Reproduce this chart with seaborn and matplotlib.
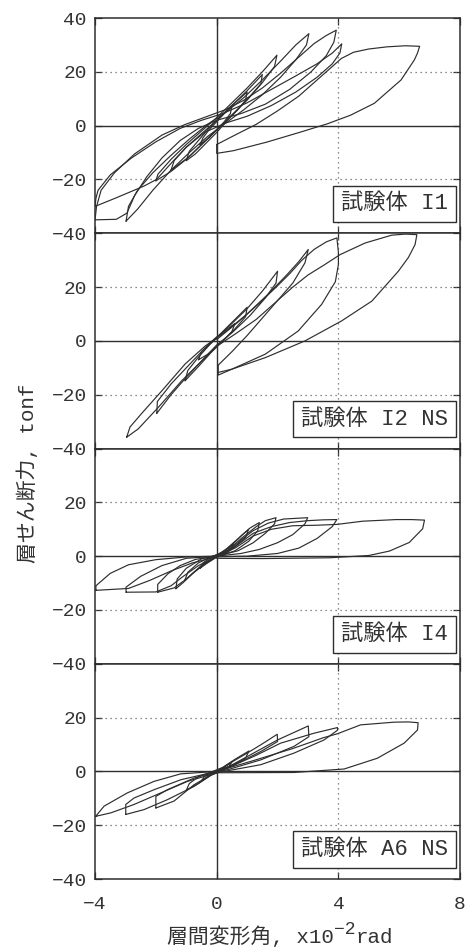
import matplotlib
matplotlib.use("Agg")
import matplotlib.pyplot as plt
import pandas as pd
import seaborn as sns

# Story shear (tonf) against story drift angle (x10^-2 rad).
# Each cycle is a closed path: negative peak -> loading branch -> positive peak -> return branch.

I1_CYCLES = [
    [(-0.55, -7), (-0.45, -4.5), (-0.25, -1.5), (0, 1.5), (0.25, 4.5), (0.5, 7.5),
     (0.45, 4.5), (0.25, 1.5), (0, -1.5), (-0.25, -4.5), (-0.55, -7)],
    [(-1.0, -13), (-0.9, -9.5), (-0.6, -5.5), (-0.3, -1.5), (0, 2), (0.4, 6.5), (0.75, 10), (1.0, 12.5),
     (0.95, 9.5), (0.7, 6), (0.35, 2), (0, -2.5), (-0.35, -6.5), (-0.7, -10.5), (-1.0, -13)],
    [(-1.5, -16.5), (-1.4, -13), (-1.0, -8), (-0.5, -3), (0, 2), (0.5, 7.5), (1.0, 13), (1.5, 19),
     (1.45, 15.5), (1.1, 11), (0.6, 5), (0.1, -0.5), (-0.4, -6), (-0.9, -11.5), (-1.5, -16.5)],
    [(-2.0, -20.5), (-1.93, -18), (-1.5, -12.5), (-1.0, -7), (-0.5, -2), (0, 3), (0.5, 8.5), (1.0, 14),
     (1.5, 20), (1.98, 26.2), (1.9, 22), (1.5, 16), (1.0, 9.5), (0.5, 4), (0, -1.5), (-0.5, -7),
     (-1.0, -12.5), (-1.5, -17), (-2.0, -20.5)],
    [(-2.98, -35.5), (-2.9, -30), (-2.6, -24), (-2.1, -17.5), (-1.5, -11), (-0.9, -5), (-0.3, 0.5),
     (0.3, 5), (0.9, 10.5), (1.5, 17), (2.1, 24), (2.6, 30), (3.03, 34.2), (2.95, 30), (2.6, 24.5),
     (2.1, 18), (1.5, 11.5), (0.9, 6), (0.3, 1), (-0.3, -4), (-0.9, -10), (-1.5, -16.5), (-2.1, -24),
     (-2.6, -31), (-2.98, -35.5)],
    [(-4.0, -35), (-3.95, -30), (-3.8, -24), (-3.36, -17.5), (-2.7, -10.5), (-1.8, -3.5), (-1.05, 0.4),
     (-0.3, 3.5), (0.3, 6), (0.9, 9.5), (1.5, 14), (2.1, 19.5), (2.7, 25.5), (3.2, 30.5), (3.6, 33.5),
     (3.93, 35.5), (3.85, 31), (3.6, 26), (3.1, 20), (2.4, 13.5), (1.6, 8), (0.8, 4.5), (0, 2),
     (-0.6, -1), (-1.2, -5.5), (-1.8, -12), (-2.3, -19), (-2.7, -26), (-2.95, -32.5), (-3.3, -34.8),
     (-4.0, -35)],
    [(-4.0, -30), (-3.97, -27), (-3.9, -24), (-3.5, -18.3), (-2.8, -12), (-2.0, -6), (-1.2, -1),
     (-0.5, 2), (0.2, 4.5), (1.0, 8.5), (1.8, 13.5), (2.6, 18.5), (3.3, 23), (3.8, 27), (4.11, 30.4),
     (4.05, 27), (3.8, 23), (3.3, 18), (2.6, 12.5), (1.8, 7.5), (1.0, 3.5), (0.3, 1), (-0.4, -2.5),
     (-1.0, -8), (-1.5, -14), (-1.98, -20), (-2.4, -22.5), (-3.3, -26.8), (-4.0, -30)],
    [(0, -7), (0.6, -3.5), (1.3, 0.5), (2.0, 5.5), (2.7, 11), (3.3, 17), (3.8, 22), (4.1, 25),
     (4.5, 27.3), (5.0, 28.5), (5.6, 29.3), (6.2, 29.7), (6.67, 29.5), (6.6, 27), (6.5, 24.5),
     (6.06, 17), (5.18, 8.3), (4.4, 3.9), (3.64, 0.7), (2.75, -2.4), (1.65, -6.1), (0.55, -9.3),
     (0, -10.3), (0, -7)],
]

I2_CYCLES = [
    [(-0.6, -7), (-0.5, -4), (-0.25, -1), (0, 1.5), (0.3, 4), (0.6, 6.5),
     (0.5, 3.5), (0.25, 0.5), (0, -2), (-0.3, -5), (-0.6, -7)],
    [(-1.04, -14.8), (-0.95, -11), (-0.6, -6), (-0.2, -1), (0.2, 3.5), (0.6, 8), (1.0, 12.5),
     (0.95, 9), (0.6, 4.5), (0.2, 0), (-0.2, -4.5), (-0.6, -9.5), (-1.04, -14.8)],
    [(-1.97, -26.9), (-1.95, -22.5), (-1.5, -16), (-1.0, -10), (-0.5, -4), (0, 1), (0.5, 6.5),
     (1.0, 12), (1.5, 18.5), (2.0, 25.9), (1.95, 21.5), (1.6, 16), (1.1, 9.5), (0.5, 3), (0, -1.5),
     (-0.5, -7.5), (-1.0, -13.5), (-1.5, -20), (-1.97, -26.9)],
    [(-2.96, -35.8), (-2.85, -32), (-2.47, -27), (-1.8, -18.5), (-1.04, -8.6), (-0.38, -1.9),
     (0.3, 3.5), (1.0, 10), (1.7, 17.5), (2.3, 24.5), (2.7, 29.5), (3.01, 34), (2.9, 29), (2.5, 21.5),
     (2.0, 15), (1.3, 8), (0.6, 2.5), (0, -2), (-0.38, -6.2), (-1.15, -14.8), (-1.92, -24.7),
     (-2.58, -32.7), (-2.96, -35.8)],
    [(0, 0.5), (0.7, 7), (1.4, 14), (2.0, 20.5), (2.4, 25), (2.8, 30), (3.2, 34), (3.6, 36.8),
     (3.95, 38.3), (4.0, 33), (4.0, 28.4), (3.9, 22), (3.45, 13.6), (2.68, 3.7), (1.6, -4.9),
     (0.5, -10.5), (0.05, -12.7), (0.05, -9)],
    [(0.05, -9), (0.5, -4), (1.0, 2), (1.5, 8.5), (2.0, 15), (2.5, 20), (3.0, 24.5), (3.5, 28),
     (4.06, 32.1), (4.88, 36.4), (5.75, 39.3), (6.2, 39.7), (6.58, 39.5), (6.52, 35.8), (6.3, 31),
     (5.97, 25.9), (5.1, 14.8), (4.1, 7.4), (2.9, 0), (1.6, -6.2), (0.5, -10.5), (0.05, -11.7)],
]

I4_CYCLES = [
    [(-0.55, -4.5), (-0.45, -2.5), (-0.2, -0.5), (0, 0.3), (0.3, 2.5), (0.55, 4.5),
     (0.45, 2.5), (0.2, 0.5), (0, -0.3), (-0.3, -2.5), (-0.55, -4.5)],
    [(-1.05, -9), (-0.95, -6), (-0.6, -2.5), (-0.2, -0.3), (0.2, 1.5), (0.5, 4.5), (0.8, 7.5),
     (1.05, 10), (0.95, 7), (0.6, 3.5), (0.3, 1), (0, -0.3), (-0.4, -3), (-0.8, -6.5), (-1.05, -9)],
    [(-1.34, -12.1), (-1.3, -8.5), (-1.0, -4.5), (-0.5, -1), (0, 0.3), (0.4, 3), (0.8, 7.5),
     (1.1, 10.5), (1.4, 12.5), (1.35, 9.5), (1.05, 5.5), (0.6, 2), (0, -0.3), (-0.4, -2.5),
     (-0.8, -6.5), (-1.1, -9.8), (-1.34, -12.1)],
    [(-1.94, -13.4), (-1.94, -10.5), (-1.6, -6.5), (-1.2, -3.5), (-0.7, -1.2), (0, 0), (0.4, 2.5),
     (0.8, 6.5), (1.3, 11), (1.6, 13.2), (1.95, 14.3), (1.9, 12), (1.6, 8.5), (1.2, 5), (0.7, 2),
     (0, 0), (-0.5, -3.5), (-1.0, -8.5), (-1.4, -11.8), (-1.94, -13.4)],
    [(-2.98, -13.4), (-2.98, -11.5), (-2.5, -7.5), (-1.8, -3.5), (-1.0, -0.8), (0, 0), (0.4, 2),
     (0.8, 6), (1.2, 9.5), (1.7, 12.3), (2.2, 13.8), (2.99, 14.3), (2.9, 12), (2.5, 8), (2.0, 5),
     (1.4, 2.5), (0.8, 1), (0, 0), (-0.6, -3.5), (-1.1, -7.5), (-1.5, -11), (-2.0, -13.3),
     (-2.98, -13.4)],
    [(-3.97, -12.7), (-3.97, -11), (-3.5, -6.4), (-2.9, -3.2), (-2.0, -1.3), (-1.0, -0.3), (0, 0),
     (0.6, 3.5), (1.2, 8.5), (1.8, 11), (2.4, 12.5), (3.0, 13.2), (3.5, 13.5), (3.95, 13.6),
     (3.8, 11), (3.3, 6.6), (2.7, 3), (2.0, 1), (1.0, 0), (0, -0.2), (-0.8, -2.5), (-1.5, -5.5),
     (-2.2, -9), (-2.9, -12), (-3.97, -12.7)],
    [(0, 0), (0.6, 3), (1.2, 7.5), (1.8, 10), (2.5, 11.3), (3.3, 11.5), (3.95, 11.8), (4.8, 13),
     (5.9, 13.6), (6.4, 13.6), (6.83, 13.4), (6.77, 10.2), (6.33, 5.1), (5.68, 1.9), (5.0, 0.25),
     (3.7, -0.6), (1.5, -0.9), (0, -0.8), (0, 0)],
]

A6_CYCLES = [
    [(-0.5, -3.5), (-0.4, -1.8), (-0.15, -0.3), (0, 0.2), (0.25, 1.5), (0.5, 3.5),
     (0.4, 1.8), (0.15, 0.3), (0, -0.2), (-0.25, -1.5), (-0.5, -3.5)],
    [(-1.0, -7), (-0.9, -4.5), (-0.6, -2), (-0.2, -0.3), (0.2, 1.5), (0.6, 4.5), (1.06, 7.6),
     (0.95, 5), (0.6, 2.5), (0.2, 0.3), (-0.2, -1.5), (-0.6, -4.5), (-1.0, -7)],
    [(-2.0, -13.6), (-2.0, -9.3), (-1.62, -6.8), (-0.75, -2.5), (0, 0), (0.35, 2.5), (1.0, 6.8),
     (1.45, 9.9), (1.99, 13.8), (2.0, 11.1), (1.45, 7.4), (0.8, 3.7), (0, 0), (-0.75, -5),
     (-1.4, -11), (-2.0, -13.6)],
    [(-2.99, -16), (-2.99, -12.3), (-2.72, -9.9), (-2.06, -6.8), (-1.18, -3.1), (0, 0), (0.35, 1.5),
     (1.0, 5.5), (2.0, 11.7), (3.01, 16.9), (3.03, 12.9), (2.54, 9.3), (1.45, 4.3), (0.35, 0.6),
     (0, 0), (-0.75, -5.6), (-1.62, -10.5), (-2.39, -14.2), (-2.99, -16)],
    [(-3.98, -16.7), (-3.7, -12.9), (-2.94, -8), (-2.06, -3.7), (-1.18, -0.9), (0, 0), (0.6, 2.5),
     (1.3, 6), (2.1, 10.5), (3.2, 14.2), (3.97, 16.3), (3.97, 15.3), (3.53, 11.7), (2.54, 6.8),
     (1.45, 2.5), (0, -0.5), (-0.96, -3.7), (-1.84, -8), (-2.72, -12.3), (-3.48, -15.4),
     (-3.98, -16.7)],
    [(0, 0), (1.2, 4), (2.5, 8.5), (3.5, 12.5), (3.97, 14), (4.73, 17.3), (5.83, 18.3), (6.3, 18.4),
     (6.62, 18.1), (6.6, 15.4), (6.16, 10.5), (5.28, 4.9), (4.19, 0.9), (2.54, -0.4), (0, -0.5),
     (0, 0)],
]

SPECIMENS = ["試験体 I1", "試験体 I2 NS", "試験体 I4", "試験体 A6 NS"]
X_TICKS = [-4, 0, 4, 8]
Y_TICKS = [-40, -20, 0, 20, 40]
X_LABEL_MAIN = "層間変形角, x10"
X_LABEL_EXP = "−2"
X_LABEL_UNIT = "rad"
Y_LABEL = "層せん断力, tonf"

FONTS = ["Liberation Mono", "Noto Sans CJK JP", "DejaVu Sans"]
INK = "#2e2e2e"

sns.set_theme(style="ticks")
plt.rcParams["font.family"] = FONTS
plt.rcParams["axes.unicode_minus"] = True


def cycles_frame(cycles):
    rows = []
    for k, cyc in enumerate(cycles):
        for i, (x, y) in enumerate(cyc):
            rows.append({"drift": x, "shear": y, "cycle": k, "order": i})
    return pd.DataFrame(rows)


fig = plt.figure(figsize=(4.69, 9.5), dpi=100)
axes = fig.subplots(4, 1, sharex=True, gridspec_kw={"hspace": 0})
fig.subplots_adjust(left=0.2026, right=0.981, top=0.981, bottom=0.0747)

for idx, (ax, cycles, name) in enumerate(zip(axes, [I1_CYCLES, I2_CYCLES, I4_CYCLES, A6_CYCLES], SPECIMENS)):
    # reference lines
    for yv in (-20, 20):
        ax.axhline(yv, color="#666666", lw=0.9, ls=(0, (1, 3)), zorder=1)
    ax.axvline(4, color="#666666", lw=0.9, ls=(0, (1, 3)), zorder=1)
    ax.axhline(0, color=INK, lw=1.0, zorder=1)
    ax.axvline(0, color=INK, lw=1.0, zorder=1)

    df = cycles_frame(cycles)
    sns.lineplot(data=df, x="drift", y="shear", units="cycle", estimator=None, sort=False,
                 color=INK, linewidth=0.85, ax=ax, legend=False, zorder=3)

    ax.set_xlim(-4, 8)
    ax.set_ylim(-40, 40)
    ax.set_xlabel("")
    ax.set_ylabel("")
    ax.set_xticks(X_TICKS)
    ax.set_yticks(Y_TICKS)
    ylabels = [f"{v}".replace("-", "−") for v in Y_TICKS]
    if idx > 0:
        ylabels[-1] = ""
    ax.set_yticklabels(ylabels)
    ax.tick_params(axis="both", direction="in", length=5, width=0.9, color=INK,
                   top=True, right=True, labelsize=14, labelcolor="#333333")
    ax.tick_params(axis="y", pad=6)
    ax.tick_params(axis="x", pad=12)
    for sp in ax.spines.values():
        sp.set_color(INK)
        sp.set_linewidth(1.1)

    ax.text(0.967, 0.088, name, transform=ax.transAxes, ha="right", va="bottom",
            fontsize=16, color="#333333", zorder=5,
            bbox=dict(boxstyle="square,pad=0.35", fc="white", ec=INK, lw=1.0))

axes[-1].set_xticklabels([f"{v}".replace("-", "−") for v in X_TICKS])

fig.text(0.058, 0.502, Y_LABEL, rotation=90, ha="center", va="center",
         fontsize=15, color="#333333")

y0 = 1 - 943 / 950
t_main = fig.text(167 / 469, y0, X_LABEL_MAIN, ha="left", va="baseline",
                  fontsize=15, color="#333333")
t_exp = axes[-1].annotate(X_LABEL_EXP, xy=(1, y0 + 0.009), xycoords=(t_main, "figure fraction"),
                          ha="left", va="baseline", fontsize=13, color="#333333",
                          annotation_clip=False)
axes[-1].annotate(X_LABEL_UNIT, xy=(1, y0), xycoords=(t_exp, "figure fraction"),
                  ha="left", va="baseline", fontsize=15, color="#333333",
                  annotation_clip=False)

fig.savefig("out.png", dpi=100)
